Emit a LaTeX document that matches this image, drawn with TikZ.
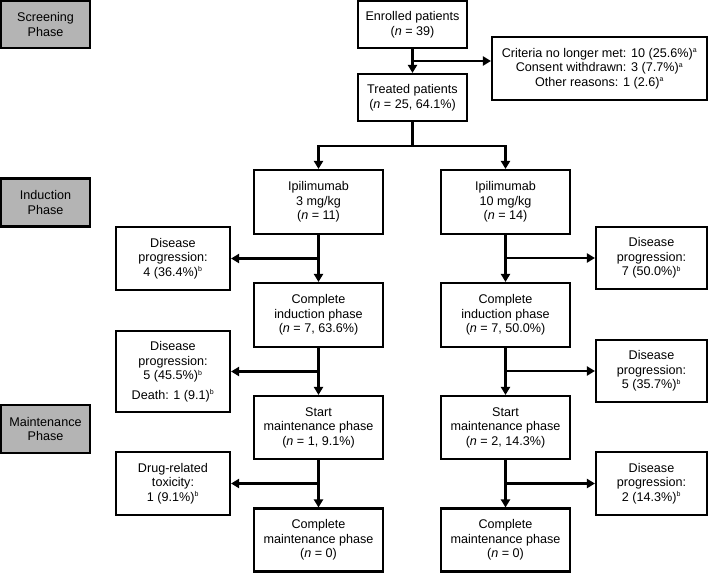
\documentclass[tikz,border=0pt]{standalone}
\usepackage{fontspec}
\setmainfont{Liberation Sans}
\usetikzlibrary{arrows.meta,calc}
\newcommand{\supa}{\textsuperscript{\scriptsize a}}
\newcommand{\supb}{\textsuperscript{\scriptsize b}}
\begin{document}
\begin{tikzpicture}[x=1pt,y=-1pt,
  box/.style={draw=black,line width=2.1pt,fill=white,align=center,inner sep=0pt,
    font=\fontsize{12.6}{14.5}\selectfont},
  phase/.style={box,fill=phasegray},
  arr/.style={line width=2.1pt,-{Triangle[length=8pt,width=9pt]}},
  ln/.style={line width=2.1pt}]
\definecolor{phasegray}{HTML}{B4B4B4}
\useasboundingbox (0,0) rectangle (709,573);
% phase boxes
\node[phase,minimum width=89pt,minimum height=47pt] (screen) at (45.5,24.5) {Screening\\Phase};
\node[phase,minimum width=89pt,minimum height=48pt] (induct) at (45.5,202.5) {Induction\\Phase};
\node[phase,minimum width=89pt,minimum height=48pt] (maint) at (45.5,429) {Maintenance\\Phase};
% main boxes
\node[box,minimum width=109pt,minimum height=47pt] (enrolled) at (412.5,24.5) {Enrolled patients\\(\textit{n} = 39)};
\node[box,minimum width=109pt,minimum height=47pt] (treated) at (412.5,97.5) {Treated patients\\(\textit{n} = 25, 64.1\%)};
\node[box,minimum width=215pt,minimum height=63pt] (criteria) at (599.5,68.5) {Criteria no longer met: 10 (25.6\%)\supa\\Consent withdrawn: 3 (7.7\%)\supa\\Other reasons: 1 (2.6)\supa};
\node[box,minimum width=129pt,minimum height=64pt] (ipi3) at (318.5,202) {Ipilimumab\\3 mg/kg\\(\textit{n} = 11)};
\node[box,minimum width=129pt,minimum height=64pt] (ipi10) at (505.5,202) {Ipilimumab\\10 mg/kg\\(\textit{n} = 14)};
\node[box,minimum width=114pt,minimum height=63pt] (dp4) at (173,258.5) {Disease\\progression:\\4 (36.4\%)\supb};
\node[box,minimum width=111pt,minimum height=62pt] (dp7) at (651.5,258) {Disease\\progression:\\7 (50.0\%)\supb};
\node[box,minimum width=129pt,minimum height=64pt] (ci3) at (318.5,315) {Complete\\induction phase\\(\textit{n} = 7, 63.6\%)};
\node[box,minimum width=129pt,minimum height=64pt] (ci10) at (505.5,315) {Complete\\induction phase\\(\textit{n} = 7, 50.0\%)};
\node[box,minimum width=114pt,minimum height=81pt] (dp5d) at (173,371.5) {Disease\\progression:\\5 (45.5\%)\supb\\[5pt]Death: 1 (9.1)\supb};
\node[box,minimum width=111pt,minimum height=62pt] (dp5) at (651.5,371) {Disease\\progression:\\5 (35.7\%)\supb};
\node[box,minimum width=129pt,minimum height=63pt] (sm3) at (318.5,427.5) {Start\\maintenance phase\\(\textit{n} = 1, 9.1\%)};
\node[box,minimum width=129pt,minimum height=63pt] (sm10) at (505.5,427.5) {Start\\maintenance phase\\(\textit{n} = 2, 14.3\%)};
\node[box,minimum width=114pt,minimum height=63pt] (drug) at (173,483.5) {Drug-related\\toxicity:\\1 (9.1\%)\supb};
\node[box,minimum width=111pt,minimum height=63pt] (dp2) at (651.5,483.5) {Disease\\progression:\\2 (14.3\%)\supb};
\node[box,minimum width=129pt,minimum height=63pt] (cm3) at (318.5,540) {Complete\\maintenance phase\\(\textit{n} = 0)};
\node[box,minimum width=129pt,minimum height=63pt] (cm10) at (505.5,540) {Complete\\maintenance phase\\(\textit{n} = 0)};
% connectors
\coordinate (b1) at (412.5,61);
\coordinate (split) at (412.5,146);
\draw[arr] (enrolled.south) -- (treated.north);
\draw[arr] (b1) -- (b1 -| criteria.west);
\draw[ln] (treated.south) -- (split);
\draw[arr] (split) -| (ipi3.north);
\draw[arr] (split) -| (ipi10.north);
\draw[arr] (ipi3.south) -- (ci3.north);
\draw[arr] (ipi10.south) -- (ci10.north);
\draw[arr] (ci3.south) -- (sm3.north);
\draw[arr] (ci10.south) -- (sm10.north);
\draw[arr] (sm3.south) -- (cm3.north);
\draw[arr] (sm10.south) -- (cm10.north);
\draw[arr] (ipi3.south |- dp4.east) -- (dp4.east);
\draw[arr] (ipi10.south |- dp7.west) -- (dp7.west);
\draw[arr] (ci3.south |- dp5d.east) -- (dp5d.east);
\draw[arr] (ci10.south |- dp5.west) -- (dp5.west);
\draw[arr] (sm3.south |- drug.east) -- (drug.east);
\draw[arr] (sm10.south |- dp2.west) -- (dp2.west);
\end{tikzpicture}
\end{document}
